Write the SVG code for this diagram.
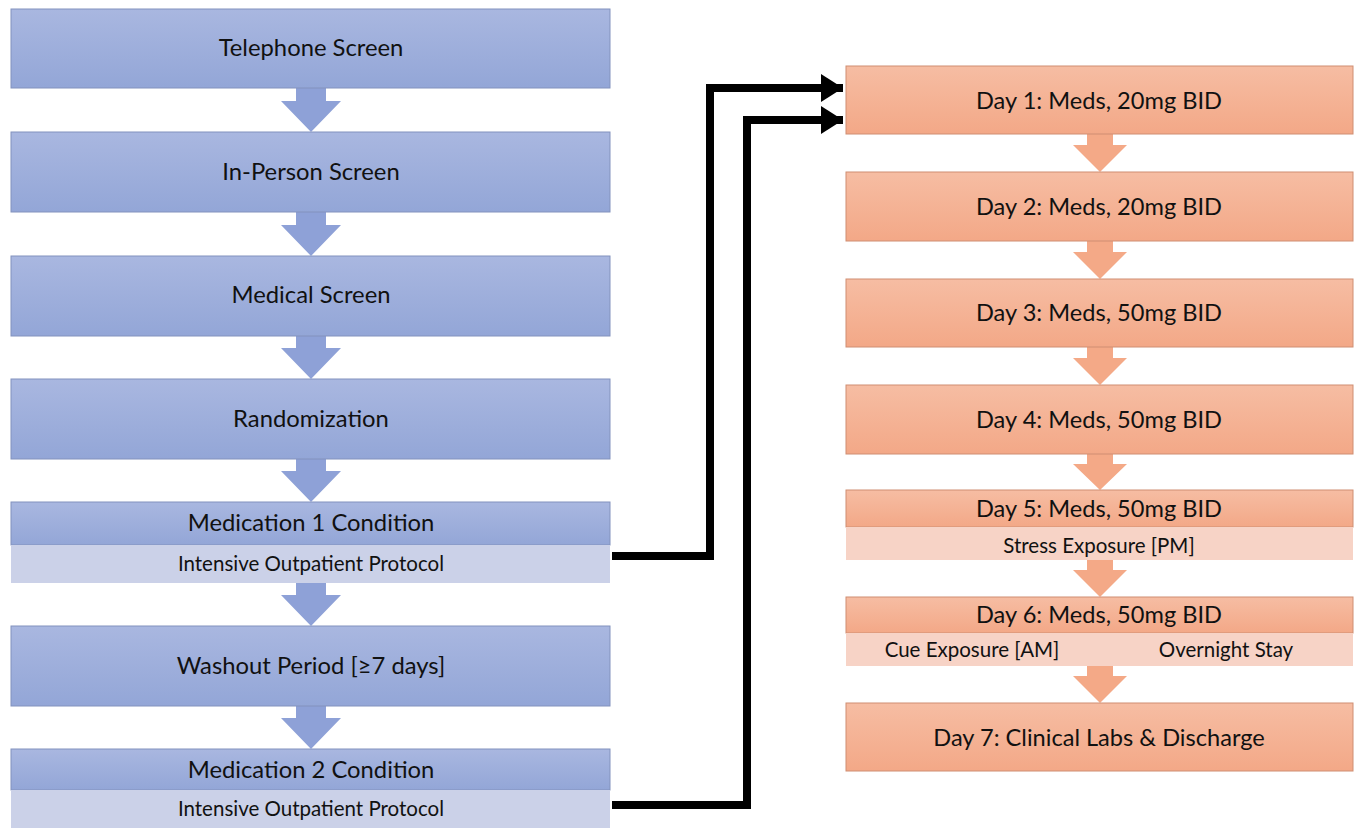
<svg xmlns="http://www.w3.org/2000/svg" width="1360" height="829" viewBox="0 0 1360 829">
<defs>
<linearGradient id="gb" x1="0" y1="0" x2="0" y2="1">
<stop offset="0" stop-color="#a9b7e0"/><stop offset="1" stop-color="#93a6d7"/>
</linearGradient>
<linearGradient id="go" x1="0" y1="0" x2="0" y2="1">
<stop offset="0" stop-color="#f6bda3"/><stop offset="1" stop-color="#f3a887"/>
</linearGradient>
<marker id="ah" viewBox="0 0 22 28" refX="22" refY="14" markerWidth="22" markerHeight="28" markerUnits="userSpaceOnUse" orient="auto">
<path d="M0,0 L22,14 L0,28 Z" fill="#000"/>
</marker>
</defs>
<style>
.bb{fill:url(#gb);stroke:#8292bd;stroke-width:1}
.bs{fill:#cbd1e8}
.ob{fill:url(#go);stroke:#cf8e72;stroke-width:1}
.os{fill:#f7d3c6}
.ba{fill:#8ea1d7}
.oa{fill:#f4a987}
text{font-family:Lato,"Open Sans","Liberation Sans",sans-serif;fill:#111;text-anchor:middle}
.t{font-size:23.8px}
.s{font-size:20.5px}
.r{font-size:23.6px}
.rs{font-size:20.5px}
.conn{fill:none;stroke:#000;stroke-width:8;marker-end:url(#ah)}
</style>
<rect width="1360" height="829" fill="#fff"/>

<g id="arrows-left">
<path class="ba" d="M296,88 H326 V101 H341 L311,132 L281,101 H296 Z"/>
<path class="ba" d="M296,212 H326 V225 H341 L311,256 L281,225 H296 Z"/>
<path class="ba" d="M296,336 H326 V348 H341 L311,379 L281,348 H296 Z"/>
<path class="ba" d="M296,459 H326 V471 H341 L311,502 L281,471 H296 Z"/>
<path class="ba" d="M296,583 H326 V595 H341 L311,626 L281,595 H296 Z"/>
<path class="ba" d="M296,706 H326 V718 H341 L311,749 L281,718 H296 Z"/>
</g>
<g id="arrows-right">
<path class="oa" d="M1087,134 H1113 V145 H1127 L1100,172 L1073,145 H1087 Z"/>
<path class="oa" d="M1087,241 H1113 V252 H1127 L1100,279 L1073,252 H1087 Z"/>
<path class="oa" d="M1087,347 H1113 V358 H1127 L1100,385 L1073,358 H1087 Z"/>
<path class="oa" d="M1087,454 H1113 V464 H1127 L1100,490 L1073,464 H1087 Z"/>
<path class="oa" d="M1087,560 H1113 V570 H1127 L1100,597 L1073,570 H1087 Z"/>
<path class="oa" d="M1087,666 H1113 V676 H1127 L1100,703 L1073,676 H1087 Z"/>
</g>

<g id="n-telephone"><rect class="bb" x="11" y="9" width="599" height="79"/><text class="t" x="311" y="56">Telephone Screen</text></g>
<g id="n-inperson"><rect class="bb" x="11" y="132" width="599" height="80"/><text class="t" x="311" y="180">In-Person Screen</text></g>
<g id="n-medical"><rect class="bb" x="11" y="256" width="599" height="80"/><text class="t" x="311" y="303">Medical Screen</text></g>
<g id="n-random"><rect class="bb" x="11" y="379" width="599" height="80"/><text class="t" x="311" y="427">Randomization</text></g>
<g id="n-med1"><rect class="bb" x="11" y="502" width="599" height="43"/><rect class="bs" x="11" y="545" width="599" height="38"/><text class="t" x="311" y="531">Medication 1 Condition</text><text class="s" x="311" y="571">Intensive Outpatient Protocol</text></g>
<g id="n-washout"><rect class="bb" x="11" y="626" width="599" height="80"/><text class="t" x="311" y="674">Washout Period [≥7 days]</text></g>
<g id="n-med2"><rect class="bb" x="11" y="749" width="599" height="41"/><rect class="bs" x="11" y="790" width="599" height="38"/><text class="t" x="311" y="778">Medication 2 Condition</text><text class="s" x="311" y="816">Intensive Outpatient Protocol</text></g>

<g id="n-day1"><rect class="ob" x="846" y="66" width="507" height="68"/><text class="r" x="1099" y="109">Day 1: Meds, 20mg BID</text></g>
<g id="n-day2"><rect class="ob" x="846" y="172" width="507" height="69"/><text class="r" x="1099" y="215">Day 2: Meds, 20mg BID</text></g>
<g id="n-day3"><rect class="ob" x="846" y="279" width="507" height="68"/><text class="r" x="1099" y="321">Day 3: Meds, 50mg BID</text></g>
<g id="n-day4"><rect class="ob" x="846" y="385" width="507" height="69"/><text class="r" x="1099" y="428">Day 4: Meds, 50mg BID</text></g>
<g id="n-day5"><rect class="ob" x="846" y="490" width="507" height="37"/><rect class="os" x="846" y="527" width="507" height="33"/><text class="r" x="1099" y="517">Day 5: Meds, 50mg BID</text><text class="rs" x="1099" y="553">Stress Exposure [PM]</text></g>
<g id="n-day6"><rect class="ob" x="846" y="597" width="507" height="36"/><rect class="os" x="846" y="633" width="507" height="33"/><text class="r" x="1099" y="623">Day 6: Meds, 50mg BID</text><text class="rs" x="972" y="657">Cue Exposure [AM]</text><text class="rs" x="1226" y="657">Overnight Stay</text></g>
<g id="n-day7"><rect class="ob" x="846" y="703" width="507" height="68"/><text class="r" x="1099" y="746">Day 7: Clinical Labs &amp; Discharge</text></g>

<g id="connectors">
<path class="conn" d="M612,556 H710 V88 H843"/>
<path class="conn" d="M612,805 H747 V120 H843"/>
</g>
</svg>
